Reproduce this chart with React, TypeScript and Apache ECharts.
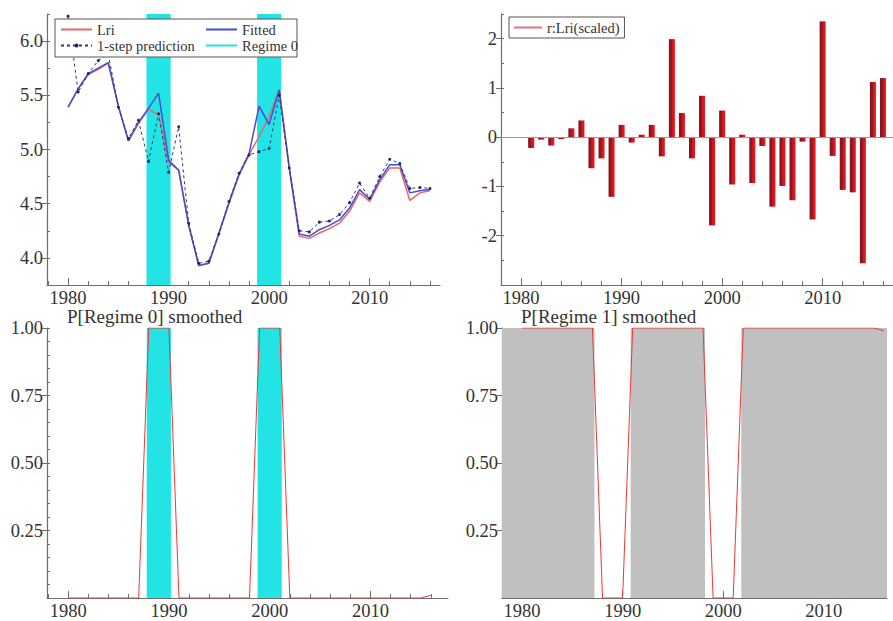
import React, { useEffect, useRef } from "react";
import * as echarts from "echarts";

const years = [1980, 1981, 1982, 1983, 1984, 1985, 1986, 1987, 1988, 1989, 1990, 1991, 1992, 1993, 1994, 1995, 1996, 1997, 1998, 1999, 2000, 2001, 2002, 2003, 2004, 2005, 2006, 2007, 2008, 2009, 2010, 2011, 2012, 2013, 2014, 2015, 2016];

const lri = [5.39, 5.56, 5.69, 5.74, 5.80, 5.40, 5.08, 5.24, 5.37, 5.32, 4.88, 4.81, 4.30, 3.93, 3.95, 4.22, 4.50, 4.76, 4.95, 5.12, 5.30, 5.55, 4.82, 4.20, 4.18, 4.23, 4.27, 4.32, 4.43, 4.60, 4.52, 4.70, 4.83, 4.83, 4.53, 4.60, 4.62];
const fitted = [5.39, 5.56, 5.70, 5.75, 5.80, 5.40, 5.08, 5.25, 5.38, 5.52, 4.90, 4.81, 4.30, 3.93, 3.95, 4.23, 4.51, 4.77, 4.96, 5.40, 5.23, 5.55, 4.84, 4.22, 4.20, 4.26, 4.30, 4.35, 4.46, 4.63, 4.54, 4.72, 4.86, 4.86, 4.60, 4.62, 4.63];
const prediction = [6.23, 5.53, 5.70, 5.82, 5.88, 5.39, 5.10, 5.27, 4.89, 5.33, 4.79, 5.21, 4.32, 3.95, 3.97, 4.22, 4.52, 4.78, 4.95, 4.98, 5.01, 5.50, 4.83, 4.25, 4.24, 4.33, 4.34, 4.40, 4.51, 4.69, 4.55, 4.75, 4.91, 4.87, 4.64, 4.65, 4.64];
const residScaled = [0.0, -0.22, -0.05, -0.17, -0.04, 0.18, 0.34, -0.63, -0.43, -1.21, 0.25, -0.11, 0.05, 0.25, -0.39, 1.99, 0.49, -0.43, 0.84, -1.79, 0.54, -0.96, 0.05, -0.93, -0.18, -1.41, -0.99, -1.28, -0.09, -1.67, 2.35, -0.38, -1.07, -1.12, -2.56, 1.12, 1.20];
const pRegime0 = [0, 0, 0, 0, 0, 0, 0, 0, 1, 1, 1, 0, 0, 0, 0, 0, 0, 0, 0, 1, 1, 1, 0, 0, 0, 0, 0, 0, 0, 0, 0, 0, 0, 0, 0, 0, 0.01];
const pRegime1 = [1, 1, 1, 1, 1, 1, 1, 1, 0, 0, 0, 1, 1, 1, 1, 1, 1, 1, 1, 0, 0, 0, 1, 1, 1, 1, 1, 1, 1, 1, 1, 1, 1, 1, 1, 1, 0.99];
const regime0Periods = [[1988, 1990], [1999, 2001]];
const regime1Periods = [[1980, 1987], [1991, 1998], [2002, 2016]];

const xLabelValues = [1980, 1990, 2000, 2010];
const lriTickValues = [4.0, 4.5, 5.0, 5.5, 6.0];
const residTickValues = [-2, -1, 0, 1, 2];
const probTickValues = [0.25, 0.5, 0.75, 1.0];

const SERIF = "'Liberation Serif', 'DejaVu Serif', serif";
const AXIS = "#6e6e6e";
const TXT = "#333333";
const CYAN = "#22e4e4";
const GRAY = "#c0c0c0";
const LABEL_SIZE = 18.5;

function range(a: number, b: number, step: number): number[] {
  const out: number[] = [];
  const n = Math.round((b - a) / step);
  for (let i = 0; i <= n; i++) out.push(Math.round((a + i * step) * 1000) / 1000);
  return out;
}

function xAxesFor(grid: number, min: number, max: number) {
  const minor = range(1978, 2016, 2).filter((v) => v >= min && v <= max);
  return [
    {
      type: "value", gridIndex: grid, min, max, position: "bottom",
      axisLine: { show: true, onZero: false, lineStyle: { color: AXIS, width: 1.2 } },
      axisTick: { show: true, inside: true, length: 4, customValues: minor, lineStyle: { color: AXIS } },
      axisLabel: { show: true, customValues: xLabelValues, margin: 3, color: TXT, fontFamily: SERIF, fontSize: LABEL_SIZE, formatter: (v: number) => String(v) },
      splitLine: { show: false },
    },
    {
      type: "value", gridIndex: grid, min, max, position: "bottom",
      axisLine: { show: false, onZero: false },
      axisTick: { show: true, inside: true, length: 7, customValues: xLabelValues, lineStyle: { color: AXIS } },
      axisLabel: { show: false },
      splitLine: { show: false },
    },
  ];
}

function yAxesFor(grid: number, min: number, max: number, major: number[], minor: number[], fmt: (v: number) => string) {
  return [
    {
      type: "value", gridIndex: grid, min, max, position: "left",
      axisLine: { show: true, onZero: false, lineStyle: { color: AXIS, width: 1.2 } },
      axisTick: { show: true, inside: false, length: 5, customValues: major, lineStyle: { color: AXIS } },
      axisLabel: { show: true, customValues: major, margin: 4, color: TXT, fontFamily: SERIF, fontSize: LABEL_SIZE, formatter: fmt },
      splitLine: { show: false },
    },
    {
      type: "value", gridIndex: grid, min, max, position: "left",
      axisLine: { show: false, onZero: false },
      axisTick: { show: true, inside: true, length: 3, customValues: minor, lineStyle: { color: AXIS } },
      axisLabel: { show: false },
      splitLine: { show: false },
    },
  ];
}

function bandSeries(name: string, periods: number[][], color: string, xi: number, yi: number, xmin: number, xmax: number, firstYear: number, lastYear: number) {
  const data = periods.map((p) => [
    p[0] === firstYear ? xmin : p[0] - 0.2,
    p[1] === lastYear ? xmax : p[1] + 0.2,
    0,
  ]);
  return {
    type: "custom", name, xAxisIndex: xi, yAxisIndex: yi, z: 1, silent: true,
    encode: { x: [0, 1], y: 2 },
    data,
    renderItem: (params: any, api: any) => {
      const cs = params.coordSys;
      const a = api.coord([api.value(0), 0]);
      const b = api.coord([api.value(1), 0]);
      const x0 = Math.max(cs.x, a[0]);
      const x1 = Math.min(cs.x + cs.width, b[0]);
      return { type: "rect", shape: { x: x0, y: cs.y, width: x1 - x0, height: cs.height }, style: { fill: color } };
    },
  };
}

const pairs = (vals: number[]) => years.map((y, i) => [y, vals[i]]);
const hidden = { opacity: 0 };

export default function App() {
  const ref = useRef<HTMLDivElement>(null);
  useEffect(() => {
    if (!ref.current) return;
    const chart = echarts.init(ref.current, undefined, { renderer: "svg" });
    const first = years[0];
    const last = years[years.length - 1];
    const TL = { min: 1977.9, max: 2017.0 };
    const TR = { min: 1978.0, max: 2017.0 };
    const BL = { min: 1977.9, max: 2017.7 };
    const BR = { min: 1978.0, max: 2016.3 };
    const legendText = { fontFamily: SERIF, fontSize: 14.5, color: TXT };

    const option: any = {
      animation: false,
      backgroundColor: "#ffffff",
      grid: [
        { left: 47, top: 14, width: 393, height: 271 },
        { left: 501, top: 14, width: 392, height: 271 },
        { left: 47, top: 328, width: 401, height: 270 },
        { left: 502, top: 328, width: 385, height: 270 },
      ],
      xAxis: [
        ...xAxesFor(0, TL.min, TL.max),
        ...xAxesFor(1, TR.min, TR.max),
        ...xAxesFor(2, BL.min, BL.max),
        ...xAxesFor(3, BR.min, BR.max),
      ],
      yAxis: [
        ...yAxesFor(0, 3.75, 6.25, lriTickValues, range(3.75, 6.25, 0.25), (v) => v.toFixed(1)),
        ...yAxesFor(1, -3.0, 2.5, residTickValues, range(-3.0, 2.5, 0.5), (v) => String(v)),
        ...yAxesFor(2, 0, 1, probTickValues, range(0, 1, 0.05), (v) => v.toFixed(2)),
        ...yAxesFor(3, 0, 1, probTickValues, range(0, 1, 0.05), (v) => v.toFixed(2)),
      ],
      legend: [
        {
          data: [{ name: "Lri", itemStyle: hidden }, { name: "1-step prediction" }],
          orient: "vertical", left: 60, top: 22, itemWidth: 31, itemHeight: 5, itemGap: 1, z: 20,
          textStyle: legendText, padding: 0,
        },
        {
          data: [{ name: "Fitted", itemStyle: hidden }, { name: "Regime 0", itemStyle: hidden }],
          orient: "vertical", left: 205, top: 22, itemWidth: 31, itemHeight: 5, itemGap: 1, z: 20,
          textStyle: legendText, padding: 0,
        },
        {
          data: [{ name: "r:Lri(scaled)", itemStyle: hidden }],
          orient: "vertical", left: 509, top: 17, itemWidth: 28, itemHeight: 10, z: 20,
          textStyle: legendText, padding: [3, 5, 3, 4],
          backgroundColor: "#ffffff", borderColor: "#555555", borderWidth: 1,
        },
      ],
      graphic: [
        { type: "rect", z: 15, shape: { x: 55, y: 19, width: 242, height: 38 }, style: { fill: "#ffffff", stroke: "#555555", lineWidth: 1 } },
        { type: "text", z: 15, x: 67, y: 307, style: { text: "P[Regime 0] smoothed", fontFamily: SERIF, fontSize: 19, fill: TXT } },
        { type: "text", z: 15, x: 521, y: 307, style: { text: "P[Regime 1] smoothed", fontFamily: SERIF, fontSize: 19, fill: TXT } },
      ],
      series: [
        bandSeries("band0", regime0Periods, CYAN, 0, 0, TL.min, TL.max, first, last),
        {
          type: "line", name: "Regime 0", xAxisIndex: 0, yAxisIndex: 0, data: [], symbol: "none",
          lineStyle: { color: CYAN, width: 3 }, itemStyle: { color: CYAN },
        },
        {
          type: "line", name: "Lri", xAxisIndex: 0, yAxisIndex: 0, data: pairs(lri), symbol: "none", z: 3,
          lineStyle: { color: "#e46a6a", width: 1.5 }, itemStyle: { color: "#e46a6a" },
        },
        {
          type: "line", name: "Fitted", xAxisIndex: 0, yAxisIndex: 0, data: pairs(fitted), symbol: "none", z: 4,
          lineStyle: { color: "#4b4bd6", width: 1.5 }, itemStyle: { color: "#4b4bd6" },
        },
        {
          type: "line", name: "1-step prediction", xAxisIndex: 0, yAxisIndex: 0, data: pairs(prediction), z: 5,
          symbol: "circle", symbolSize: 3,
          lineStyle: { color: "#2a3a7a", width: 1, type: [3, 3] }, itemStyle: { color: "#1e2a66" },
        },
        {
          type: "bar", name: "resid", xAxisIndex: 2, yAxisIndex: 2, data: pairs(residScaled), barWidth: 6, z: 3,
          itemStyle: {
            color: new echarts.graphic.LinearGradient(0, 0, 1, 0, [
              { offset: 0, color: "#7e1620" },
              { offset: 0.45, color: "#9a1520" },
              { offset: 0.55, color: "#d8141c" },
              { offset: 1, color: "#e8161c" },
            ]),
          },
          markLine: {
            silent: true, symbol: "none", label: { show: false },
            lineStyle: { color: "#9a9a9a", width: 1, type: "solid" },
            data: [{ yAxis: 0 }],
          },
        },
        {
          type: "line", name: "r:Lri(scaled)", xAxisIndex: 2, yAxisIndex: 2, data: [], symbol: "none",
          lineStyle: { color: "#e47080", width: 2 }, itemStyle: { color: "#e47080" },
        },
        bandSeries("band0b", regime0Periods, CYAN, 4, 4, BL.min, BL.max, first, last),
        {
          type: "line", name: "p0", xAxisIndex: 4, yAxisIndex: 4, data: pairs(pRegime0), symbol: "none", z: 3,
          lineStyle: { color: "#e83a3a", width: 1 },
        },
        bandSeries("band1", regime1Periods, GRAY, 6, 6, BR.min, BR.max, first, last),
        {
          type: "line", name: "p1", xAxisIndex: 6, yAxisIndex: 6, data: pairs(pRegime1), symbol: "none", z: 3,
          lineStyle: { color: "#e83a3a", width: 1 },
        },
      ],
    };
    chart.setOption(option);
    return () => chart.dispose();
  }, []);
  return <div ref={ref} style={{ position: "fixed", left: 0, top: 0, width: 893, height: 621, background: "#fff" }} />;
}
